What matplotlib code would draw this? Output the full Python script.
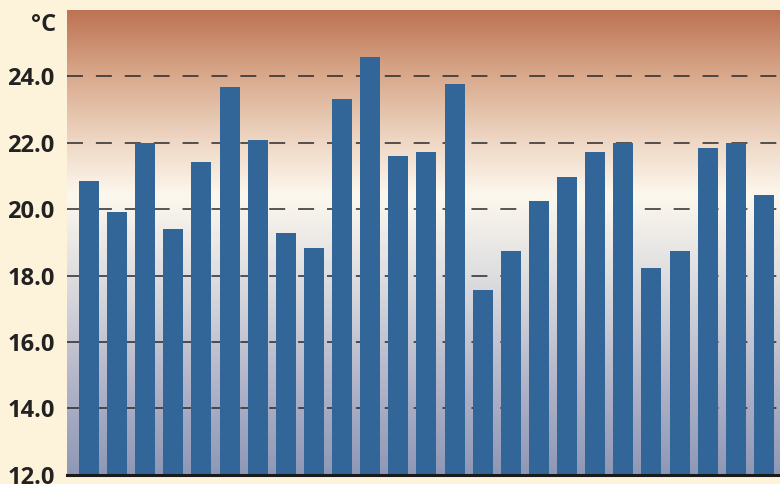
import numpy as np
import matplotlib.pyplot as plt
from matplotlib.colors import LinearSegmentedColormap

plt.rcParams["lines.scale_dashes"] = False

# bar values (deg C)
values = [20.85, 19.92, 22.0, 19.41, 21.43, 23.69, 22.09, 19.29, 18.83, 23.33,
          24.59, 21.61, 21.73, 23.78, 17.57, 18.74, 20.25, 20.97, 21.73, 22.0,
          18.23, 18.74, 21.85, 22.0, 20.43]
y_ticks = [12, 14, 16, 18, 20, 22, 24]
unit_label = "°C"

# colours
bg_color = "#fdf3da"
bar_color = "#326699"
grad_stops = [
    (0.0, "#8e98b6"),
    (0.15, "#a9adc4"),
    (0.30, "#c6c7d3"),
    (0.45, "#e2e1e2"),
    (0.60, "#fdf8ee"),
    (0.72, "#eed7c4"),
    (0.86, "#d9a98c"),
    (1.0, "#bd7353"),
]

fig = plt.figure(figsize=(7.8, 4.84), dpi=100, facecolor=bg_color)
ax = fig.add_axes([67 / 780, 0.0192, 1 - 67 / 780, 0.9601])

x = np.arange(len(values))
x_min, x_max = -0.78, 24.57
y_min, y_max = 12, 26

# gradient background for the plot area
cmap = LinearSegmentedColormap.from_list("bg", grad_stops)
grad = np.linspace(0, 1, 256).reshape(-1, 1)
ax.imshow(grad, cmap=cmap, aspect="auto", origin="lower",
          extent=[x_min, x_max, y_min, y_max], zorder=0)

ax.bar(x, values, width=0.711, color=bar_color, zorder=2)

ax.set_xlim(x_min, x_max)
ax.set_ylim(y_min, y_max)

# dashed grid lines
ax.set_yticks(y_ticks)
ax.set_yticklabels([f"{t:.1f}" for t in y_ticks], fontsize=17,
                   fontweight="bold", color="#222222", family="Open Sans")
ax.yaxis.grid(True, color="#2a2a2a", linewidth=1.1,
              linestyle=(0, (11.5, 9.3)), zorder=1)
ax.tick_params(axis="y", length=0, pad=9)
ax.set_xticks([])

for side in ["top", "left", "right"]:
    ax.spines[side].set_visible(False)
ax.spines["bottom"].set_color("#1a1a1a")
ax.spines["bottom"].set_linewidth(2.2)
ax.spines["bottom"].set_zorder(3)

fig.text(56 / 780, 1 - 25 / 484, unit_label, ha="right", va="center",
         fontsize=17, fontweight="bold", color="#222222", family="Open Sans")

fig.savefig("out.png", dpi=100, facecolor=bg_color)
